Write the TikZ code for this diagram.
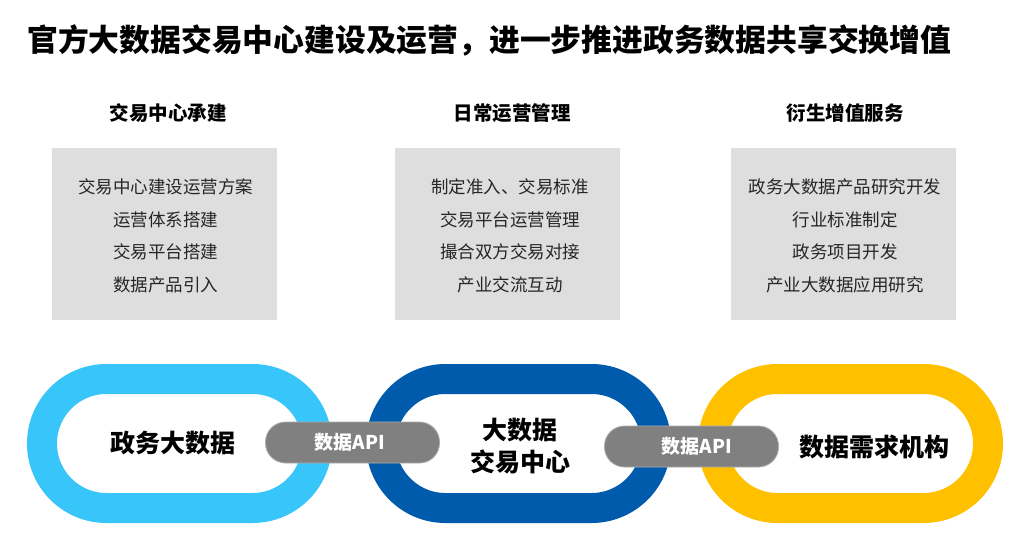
\documentclass[tikz,border=0pt]{standalone}
\usepackage{fontspec}
\setmainfont{Noto Sans CJK SC}
\usepackage{xcolor}
\usetikzlibrary{positioning}
\definecolor{linkcyan}{RGB}{56,197,249}
\definecolor{linkblue}{RGB}{0,91,172}
\definecolor{linkgold}{RGB}{255,192,0}
\definecolor{boxgray}{RGB}{222,222,222}
\definecolor{apigray}{RGB}{128,128,128}

\begin{document}
\begin{tikzpicture}[x=1pt, y=-1pt,
  headtext/.style={font=\fontsize{19.5}{23}\selectfont\bfseries},
  itembox/.style={fill=boxgray, minimum width=225pt, minimum height=172pt, inner sep=0pt},
  itemtext/.style={font=\fontsize{17.5}{32.5}\selectfont, align=center, text=black!85},
  chainlink/.style={draw, line width=30pt, rounded corners=64.5pt,
                    minimum width=275pt, minimum height=129pt, inner sep=0pt},
  linktext/.style={font=\fontsize{25}{32}\selectfont\bfseries, align=center},
  apipill/.style={fill=apigray, draw=apigray!65!white, line width=0.8pt, rounded corners=20pt,
                  minimum width=174pt, minimum height=41pt, inner sep=0pt,
                  text=white, font=\fontsize{19}{23}\selectfont\bfseries}]
\useasboundingbox (0,0) rectangle (1032,556);

% title
\node[anchor=west, inner sep=0pt, font=\fontsize{30.8}{36}\selectfont\bfseries] (title) at (27,40)
  {官方大数据交易中心建设及运营，进一步推进政务数据共享交换增值};

% three columns
\node[itembox] (box1) at (164.5,234) {};
\node[itembox] (box2) at (507.5,234) {};
\node[itembox] (box3) at (843.5,234) {};

\node[headtext] (head1) at (168,113) {交易中心承建};
\node[headtext] (head2) at (512,113) {日常运营管理};
\node[headtext] (head3) at (845,113) {衍生增值服务};

\node[itemtext] (items1) at (165.5,236) {交易中心建设运营方案\\运营体系搭建\\交易平台搭建\\数据产品引入};
\node[itemtext] (items2) at (510,236) {制定准入、交易标准\\交易平台运营管理\\撮合双方交易对接\\产业交流互动};
\node[itemtext] (items3) at (845,236) {政务大数据产品研究开发\\行业标准制定\\政务项目开发\\产业大数据应用研究};

% chain
\node[chainlink, draw=linkcyan] (link1) at (179.5,443.5) {};
\node[chainlink, draw=linkblue] (link2) at (518.5,443.5) {};
\node[chainlink, draw=linkgold] (link3) at (850.5,443.5) {};

\node[linktext] (label1) at (173,443) {政务大数据};
\node[linktext] (label2) at (520,446) {大数据\\交易中心};
\node[linktext] (label3) at (874,447) {数据需求机构};

\node[apipill] (api1) at (352.5,442.5) {};
\node[apipill] (api2) at (691.5,446.5) {};
\node[text=white, font=\fontsize{19}{23}\selectfont\bfseries] (apitext1) at (350,442.5) {数据API};
\node[text=white, font=\fontsize{19}{23}\selectfont\bfseries] (apitext2) at (697,446.5) {数据API};
\end{tikzpicture}
\end{document}
